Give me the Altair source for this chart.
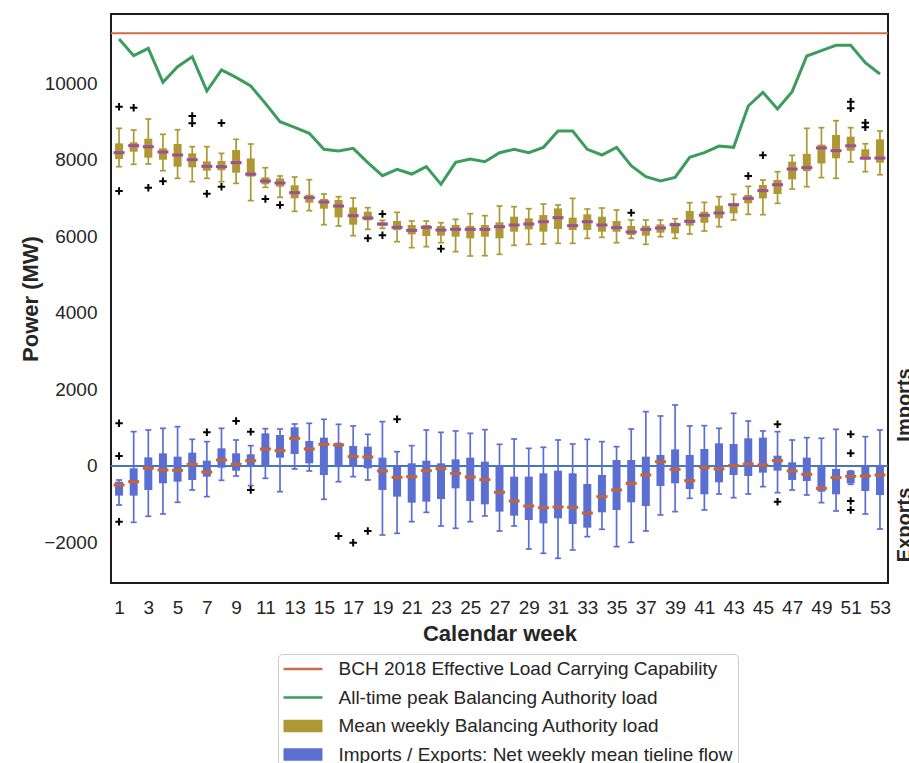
import altair as alt
import pandas as pd

# ---------------- data ----------------
weeks = list(range(1, 54))

elc_value = [11300]

peak_load = [11149, 10714, 10905, 10018, 10427, 10688, 9791, 10340, 10148, 9922,
             9469, 8991, 8843, 8686, 8268, 8225, 8294, 7920, 7581, 7746,
             7624, 7816, 7354, 7929, 8016, 7946, 8181, 8268, 8181, 8320,
             8747, 8747, 8268, 8120, 8320, 7842, 7555, 7442, 7537, 8059,
             8181, 8355, 8320, 9400, 9757, 9321, 9774, 10705, 10844, 10984,
             10984, 10531, 10235]

load_low = [7815, 7876, 7885, 7711, 7511, 7424, 7511, 7424, 7380, 6930,
            7276, 7015, 6649, 6667, 6301, 6266, 6014, 6179, 6205, 5857,
            5701, 5727, 5831, 5596, 5483, 5492, 5526, 5761, 5787, 5796,
            5814, 5814, 5944, 5970, 5831, 5944, 5787, 5988, 5944, 6057,
            6136, 6249, 6423, 6571, 6562, 6858, 7232, 7293, 7530, 7511,
            7940, 7685, 7605]
load_q1 = [8016, 8207, 8050, 7998, 7815, 7798, 7711, 7720, 7659, 7555,
           7354, 7293, 6989, 6875, 6719, 6492, 6301, 6414, 6266, 6162,
           6049, 6005, 6014, 5988, 5944, 5988, 5944, 6118, 6179, 6118,
           6188, 6162, 6162, 6118, 6118, 6031, 6014, 6092, 6075, 6275,
           6353, 6466, 6597, 6858, 6988, 7102, 7485, 7700, 7900, 8033,
           8230, 8007, 7920]
load_med = [8181, 8364, 8337, 8198, 8120, 7998, 7824, 7815, 7920, 7620,
            7441, 7389, 7136, 7006, 6893, 6788, 6536, 6475, 6318, 6231,
            6153, 6231, 6162, 6179, 6179, 6179, 6249, 6292, 6318, 6379,
            6484, 6275, 6379, 6292, 6223, 6110, 6179, 6214, 6301, 6388,
            6545, 6606, 6823, 6988, 7189, 7345, 7754, 7790, 8305, 8233,
            8360, 8038, 8040]
load_q3 = [8424, 8451, 8546, 8294, 8407, 8163, 7955, 7963, 8250, 8030,
           7537, 7511, 7328, 7084, 6971, 6945, 6753, 6640, 6362, 6397,
           6292, 6292, 6266, 6292, 6266, 6292, 6362, 6510, 6466, 6553,
           6727, 6484, 6571, 6510, 6397, 6266, 6275, 6310, 6353, 6658,
           6640, 6797, 6858, 7076, 7337, 7467, 7946, 8150, 8390, 8642,
           8599, 8270, 8529]
load_high = [8816, 8773, 9060, 8660, 8781, 8338, 8338, 8163, 8529, 8407,
             7789, 7572, 7545, 7476, 7102, 7032, 6997, 6745, 6414, 6623,
             6397, 6397, 6353, 6440, 6588, 6536, 6788, 6771, 6719, 6841,
             6815, 6988, 6710, 6736, 6684, 6423, 6423, 6423, 6458, 6875,
             6884, 7032, 7093, 7302, 7467, 7685, 8111, 8816, 8834, 9016,
             8834, 8415, 8746]

load_out_week = [1, 1, 2, 3, 4, 6, 6, 7, 8, 8, 11, 12, 18, 19, 19, 23, 36, 44, 45, 51, 51, 52, 52]
load_out_value = [9382, 7180, 9356, 7267, 7432, 9138, 8947, 7110, 8955, 7293,
                  6971, 6814, 5944, 6579, 6023, 5674, 6614, 7572, 8111, 9513,
                  9339, 8964, 8843]

flow_low = [-1018, -1471, -1314, -1253, -948, -626, -800, -374, -261, -513,
            -322, -670, -78, -130, -870, -409, -278, -365, -1801, -1758,
            -1453, -1210, -1566, -1627, -1453, -1305, -1697, -1566, -2167, -2280,
            -2410, -2193, -1845, -1653, -2106, -1993, -1697, -1279, -1192, -844,
            -1149, -731, -827, -731, -539, -696, -626, -757, -957, -1175,
            -478, -1253, -1645]
flow_q1 = [-774, -774, -626, -452, -409, -365, -278, -44, -122, -17,
           26, 218, 313, 70, -235, 0, 26, -61, -626, -800,
           -957, -931, -861, -583, -914, -1001, -1192, -1297, -1410, -1497,
           -1366, -1514, -1610, -1210, -1149, -948, -1044, -522, -452, -600,
           -739, -426, -235, -261, -174, -122, -365, -391, -670, -739,
           -452, -653, -757]
flow_med = [-496, -409, -61, -104, -113, 44, -157, 157, 44, 139,
            444, 401, 723, 444, 566, 549, 244, 235, -130, -296,
            -278, -122, -70, -191, -287, -357, -687, -914, -1044, -1088,
            -1070, -1079, -1227, -800, -626, -452, -235, 113, -87, -383,
            -35, -78, 9, 52, 26, 139, -130, -218, -583, -304,
            -270, -261, -235]
flow_q3 = [-409, -61, 226, 331, 244, 348, 139, 461, 331, 305,
           853, 810, 1010, 653, 740, 610, 523, 505, 218, -17,
           70, 139, 70, 174, 218, 113, 0, -278, -278, -191,
           -122, -191, -470, -235, 157, 157, 244, 287, 435, 287,
           444, 592, 575, 723, 740, 270, 96, 218, -17, -78,
           -130, 0, 0]
flow_high = [-365, 897, 940, 984, 1027, 696, 636, 984, 679, 531,
             975, 966, 1097, 1114, 1219, 1088, 1045, 827, 1158, 374,
             531, 940, 879, 914, 853, 949, 566, 705, 461, 488,
             679, 575, 696, 636, 505, 966, 1419, 1306, 1593, 1045,
             1053, 984, 1375, 1175, 914, 897, 679, 740, 723, 958,
             -130, 766, 940]

flow_out_week = [1, 1, 1, 7, 9, 10, 10, 16, 17, 18, 20, 46, 46, 51, 51, 51, 51]
flow_out_value = [1114, 261, -1453, 879, 1175, 897, -626, -1827, -2001, -1697,
                  1219, 1088, -931, 827, 331, -914, -1149]

side_labels = ["Imports", "Exports"]
side_label_pos = [1593, -1540]

legend_labels = ["BCH 2018 Effective Load Carrying Capability",
                 "All-time peak Balancing Authority load",
                 "Mean weekly Balancing Authority load",
                 "Imports / Exports: Net weekly mean tieline flow"]

# ---------------- styling ----------------
ORANGE = "#cd6c45"
GREEN = "#3c9c5e"
GOLD = "#ad9833"
PURPLE = "#9d4f98"
BLUE = "#5b6fd3"
BLUE_MED = "#c9632f"
ZERO_BLUE = "#4677bd"
FONT = "Liberation Sans"
TXT = "#262626"

# legend symbol paths (unit = 9.5 px): span 39 px wide starting at the symbol column's left edge
line_path = "M-1,-0.125L3.1,-0.125L3.1,0.125L-1,0.125Z"
rect_path = "M-1,-0.65L3.1,-0.65L3.1,0.65L-1,0.65Z"
cross_path = "M-1,0L1,0M0,-1L0,1"

load_df = pd.DataFrame({"week": weeks, "low": load_low, "q1": load_q1, "med": load_med,
                        "q3": load_q3, "high": load_high, "peak": peak_load})
flow_df = pd.DataFrame({"week": weeks, "low": flow_low, "q1": flow_q1, "med": flow_med,
                        "q3": flow_q3, "high": flow_high})
load_out = pd.DataFrame({"week": load_out_week, "v": load_out_value})
flow_out = pd.DataFrame({"week": flow_out_week, "v": flow_out_value})
elc_df = pd.DataFrame({"v": elc_value})
zero_df = pd.DataFrame({"v": [0]})
side_df = pd.DataFrame({"label": side_labels, "v": side_label_pos})
legend_df = pd.DataFrame({"series": legend_labels})

xs = alt.Scale(domain=[0.45, 53.55], nice=False, zero=False)
ys = alt.Scale(domain=[-3055, 11802], nice=False, zero=False)

x_axis = alt.Axis(values=list(range(1, 54, 2)), title="Calendar week", grid=False, ticks=False,
                  domain=False, labelFontSize=19, labelPadding=15, labelColor=TXT, format="d",
                  titleFontSize=22, titleFontWeight="bold", titleColor=TXT,
                  titleBaseline="middle", titleY=50)
y_axis = alt.Axis(values=list(range(-2000, 10001, 2000)), title="Power (MW)", grid=False,
                  ticks=False, domain=False, labelFontSize=19, labelPadding=14, labelColor=TXT,
                  format="d", titleFontSize=22, titleFontWeight="bold", titleColor=TXT,
                  titleBaseline="middle", titleX=-81)


def X(field="week"):
    return alt.X(f"{field}:Q", scale=xs, axis=x_axis)


def Y(field):
    return alt.Y(f"{field}:Q", scale=ys, axis=y_axis)


elc = alt.Chart(elc_df).mark_rule(color=ORANGE, strokeWidth=2).encode(y=Y("v"))
zero = alt.Chart(zero_df).mark_rule(color=ZERO_BLUE, strokeWidth=1.8).encode(y=Y("v"))

peak = alt.Chart(load_df).mark_line(color=GREEN, strokeWidth=3).encode(x=X(), y=Y("peak"))


def boxplot(df, color, med_color):
    whisk = alt.Chart(df).mark_rule(color=color, strokeWidth=1.7).encode(
        x=X(), y=Y("low"), y2="high")
    cap_lo = alt.Chart(df).mark_tick(orient="horizontal", color=color, thickness=1.7,
                                     size=6, opacity=1).encode(x=X(), y=Y("low"))
    cap_hi = alt.Chart(df).mark_tick(orient="horizontal", color=color, thickness=1.7,
                                     size=6, opacity=1).encode(x=X(), y=Y("high"))
    box = alt.Chart(df).mark_rule(color=color, strokeWidth=8).encode(
        x=X(), y=Y("q1"), y2="q3")
    med = alt.Chart(df).mark_tick(orient="horizontal", color=med_color, thickness=3,
                                  size=11, opacity=1).encode(x=X(), y=Y("med"))
    return [whisk, cap_lo, cap_hi, box, med]


def outliers(df):
    return alt.Chart(df).mark_point(shape=cross_path, filled=False, color="black",
                                    strokeWidth=2, size=56, opacity=1).encode(x=X(), y=Y("v"))


side = alt.Chart(side_df).mark_text(angle=270, align="center", baseline="alphabetic",
                                    fontSize=20, fontWeight="bold", color=TXT, font=FONT).encode(
    x=alt.value(800), y=Y("v"), text="label:N")

leg = alt.Legend(title=None, orient="none", legendX=167, legendY=640,
                 symbolSize=361, symbolStrokeWidth=0, symbolOpacity=1,
                 labelFontSize=19, labelFont=FONT, labelColor=TXT, labelOffset=36,
                 labelLimit=700, rowPadding=8.5, padding=5.5, strokeColor="#cccccc",
                 fillColor="white", cornerRadius=4)
legend_layer = alt.Chart(legend_df).mark_point(filled=True, opacity=0).encode(
    x=alt.value(0), y=alt.value(0),
    color=alt.Color("series:N", scale=alt.Scale(domain=legend_labels,
                                                range=[ORANGE, GREEN, GOLD, BLUE]), legend=leg),
    shape=alt.Shape("series:N", scale=alt.Scale(domain=legend_labels,
                                                range=[line_path, line_path, rect_path, rect_path]),
                    legend=leg),
)

layers = [elc, peak, zero] + boxplot(load_df, GOLD, PURPLE) + boxplot(flow_df, BLUE, BLUE_MED) \
    + [outliers(load_out), outliers(flow_out), side, legend_layer]

chart = alt.layer(*layers).properties(
    width=777, height=569,
    autosize=alt.AutoSizeParams(type="none"),
    padding={"left": 111, "top": 14, "right": 21, "bottom": 180},
).configure(font=FONT).configure_view(stroke="#1c1c1c", strokeWidth=2)

chart.save("out.html", embed_options={"renderer": "svg", "actions": False})
